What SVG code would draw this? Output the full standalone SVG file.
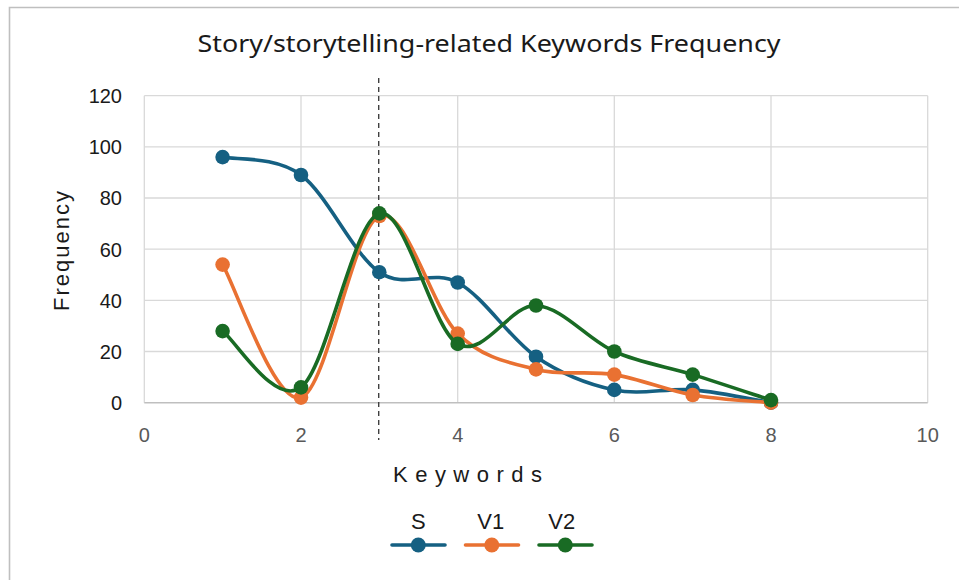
<svg xmlns="http://www.w3.org/2000/svg" width="959" height="580" viewBox="0 0 959 580">
  <style>
    .grid { stroke: #d9d9d9; stroke-width: 1.3; fill: none; }
    .axis { stroke: #bfbfbf; stroke-width: 1.6; fill: none; }
    .frame { stroke: #bfbfbf; stroke-width: 1.6; fill: none; }
    .ytick { font-family: "Liberation Sans", Arial, sans-serif; font-size: 20px; fill: #1a1a1a; text-anchor: end; }
    .xtick { font-family: "Liberation Sans", Arial, sans-serif; font-size: 20px; fill: #595959; text-anchor: middle; }
    .label { font-family: "Liberation Sans", Arial, sans-serif; font-size: 22px; fill: #1a1a1a; }
    .title { font-family: "Noto Sans", "Liberation Sans", sans-serif; font-size: 23px; fill: #1a1a1a; text-anchor: middle; }
    .line { fill: none; stroke-width: 3.6; stroke-linecap: round; stroke-linejoin: round; }
    .s { stroke: #156082; } .sf { fill: #156082; }
    .v1 { stroke: #e97132; } .v1f { fill: #e97132; }
    .v2 { stroke: #196b24; } .v2f { fill: #196b24; }
  </style>

  <rect width="959" height="580" fill="#ffffff"/>
  <!-- chart frame (top and left edges visible) -->
  <path class="frame" d="M9.5,580 V7.5 H959"/>

  <!-- title -->
  <text class="title" x="489" y="52" textLength="583" lengthAdjust="spacingAndGlyphs">Story/storytelling-related Keywords Frequency</text>

  <!-- gridlines -->
  <g id="gridlines">
    <path class="grid" d="M144.3,95.7 H927.7 M144.3,146.9 H927.7 M144.3,198.0 H927.7 M144.3,249.2 H927.7 M144.3,300.4 H927.7 M144.3,351.5 H927.7"/>
    <path class="grid" d="M144.3,95.7 V402.7 M301.0,95.7 V402.7 M457.7,95.7 V402.7 M614.3,95.7 V402.7 M771.0,95.7 V402.7 M927.7,95.7 V402.7"/>
    <path class="axis" d="M144.3,402.7 H927.7"/>
  </g>

  <!-- y tick labels -->
  <g id="y-axis">
    <text class="ytick" x="122" y="103">120</text>
    <text class="ytick" x="122" y="154.2">100</text>
    <text class="ytick" x="122" y="205.3">80</text>
    <text class="ytick" x="122" y="256.5">60</text>
    <text class="ytick" x="122" y="307.7">40</text>
    <text class="ytick" x="122" y="358.8">20</text>
    <text class="ytick" x="122" y="410">0</text>
    <text class="label" transform="translate(69,251) rotate(-90)" x="-60" textLength="120" lengthAdjust="spacing">Frequency</text>
  </g>

  <!-- x tick labels -->
  <g id="x-axis">
    <text class="xtick" x="144.3" y="442">0</text>
    <text class="xtick" x="301.0" y="442">2</text>
    <text class="xtick" x="457.7" y="442">4</text>
    <text class="xtick" x="614.3" y="442">6</text>
    <text class="xtick" x="771.0" y="442">8</text>
    <text class="xtick" x="927.7" y="442">10</text>
    <text class="label" x="393" y="482" textLength="149" lengthAdjust="spacing">Keywords</text>
  </g>

  <!-- reference line at x = 3 -->
  <g id="connectors">
    <path d="M378.7,78 V440" stroke="#404040" stroke-width="1.4" stroke-dasharray="5 4" fill="none"/>
  </g>

  <!-- series S -->
  <g id="series-s">
    <path class="line s" d="M222.6,157.1 C235.7,160.1 274.9,155.8 301.0,175.0 C327.1,194.2 353.2,254.3 379.3,272.2 C405.4,290.1 431.6,268.4 457.7,282.5 C483.8,296.6 509.9,338.8 536.0,356.7 C562.1,374.6 588.2,384.4 614.3,389.9 C640.4,395.4 666.6,387.8 692.7,389.9 C718.8,392.0 758.0,400.6 771.0,402.7"/>
    <g class="sf">
      <circle cx="222.6" cy="157.1" r="7.3"/>
      <circle cx="301.0" cy="175.0" r="7.3"/>
      <circle cx="379.3" cy="272.2" r="7.3"/>
      <circle cx="457.7" cy="282.5" r="7.3"/>
      <circle cx="536.0" cy="356.7" r="7.3"/>
      <circle cx="614.3" cy="389.9" r="7.3"/>
      <circle cx="692.7" cy="389.9" r="7.3"/>
      <circle cx="771.0" cy="402.7" r="7.3"/>
    </g>
  </g>

  <!-- series V1 -->
  <g id="series-v1">
    <path class="line v1" d="M222.6,264.6 C235.7,286.8 274.9,405.7 301.0,397.6 C327.1,389.5 353.2,226.7 379.3,216.0 C405.4,205.3 431.6,308.0 457.7,333.6 C483.8,359.2 509.9,362.6 536.0,369.4 C562.1,376.2 588.2,370.3 614.3,374.6 C640.4,378.9 666.6,390.3 692.7,395.0 C718.8,399.7 758.0,401.4 771.0,402.7"/>
    <g class="v1f">
      <circle cx="222.6" cy="264.6" r="7.3"/>
      <circle cx="301.0" cy="397.6" r="7.3"/>
      <circle cx="379.3" cy="216.0" r="7.3"/>
      <circle cx="457.7" cy="333.6" r="7.3"/>
      <circle cx="536.0" cy="369.4" r="7.3"/>
      <circle cx="614.3" cy="374.6" r="7.3"/>
      <circle cx="692.7" cy="395.0" r="7.3"/>
      <circle cx="771.0" cy="402.7" r="7.3"/>
    </g>
  </g>

  <!-- series V2 -->
  <g id="series-v2">
    <path class="line v2" d="M222.6,331.1 C235.7,340.5 274.9,407.0 301.0,387.4 C327.1,367.8 353.2,220.7 379.3,213.4 C405.4,206.2 431.6,328.6 457.7,343.9 C483.8,359.2 509.9,304.2 536.0,305.5 C562.1,306.8 588.2,340.0 614.3,351.5 C640.4,363.0 666.6,366.5 692.7,374.6 C718.8,382.7 758.0,395.9 771.0,400.1"/>
    <g class="v2f">
      <circle cx="222.6" cy="331.1" r="7.3"/>
      <circle cx="301.0" cy="387.4" r="7.3"/>
      <circle cx="379.3" cy="213.4" r="7.3"/>
      <circle cx="457.7" cy="343.9" r="7.3"/>
      <circle cx="536.0" cy="305.5" r="7.3"/>
      <circle cx="614.3" cy="351.5" r="7.3"/>
      <circle cx="692.7" cy="374.6" r="7.3"/>
      <circle cx="771.0" cy="400.1" r="7.3"/>
    </g>
  </g>

  <!-- legend -->
  <g id="legend">
    <text class="label" x="418.3" y="528.5" text-anchor="middle">S</text>
    <text class="label" x="490.7" y="528.5" text-anchor="middle">V1</text>
    <text class="label" x="561.7" y="528.5" text-anchor="middle">V2</text>
    <path class="line s" d="M392,545 H445"/>
    <circle class="sf" cx="418.3" cy="545" r="7.5"/>
    <path class="line v1" d="M465.5,545 H518.5"/>
    <circle class="v1f" cx="491.8" cy="545" r="7.5"/>
    <path class="line v2" d="M539,545 H592"/>
    <circle class="v2f" cx="565.3" cy="545" r="7.5"/>
  </g>
</svg>
